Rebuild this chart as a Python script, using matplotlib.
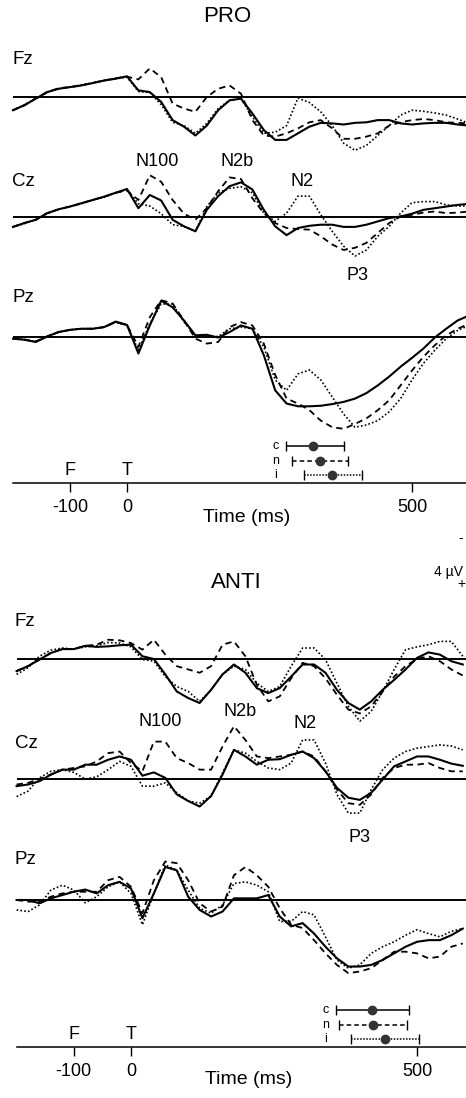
import matplotlib
matplotlib.use('Agg')
import matplotlib.pyplot as plt
import numpy as np

plt.rcParams['font.family'] = ['Liberation Sans', 'DejaVu Sans']

W, H = 466, 1098
PX_UV = 11.0  # pixels per microvolt

# ---- data (microvolts, negative up) ----
time_pro = np.arange(-200, 601, 20)
time_anti = np.arange(-200, 581, 20)

pro_fz_c = [1.2, 0.75, 0.15, -0.45, -0.75, -0.9, -1.05, -1.27, -1.5, -1.67, -1.88,
            -0.6, -0.45, 0.45, 2.1, 2.7, 3.5, 2.6, 1.2, 0.3, 0.15, 1.5, 3.0, 3.9, 3.9, 3.3,
            2.7, 2.35, 2.4, 2.5, 2.35, 2.3, 2.1, 2.1, 2.4, 2.5, 2.4, 2.35, 2.35, 2.5, 2.6]
pro_fz_n = [1.2, 0.75, 0.1, -0.45, -0.8, -0.9, -1.05, -1.3, -1.5, -1.7, -1.85,
            -1.6, -2.6, -1.8, 0.6, 1.05, 1.35, 0.0, -0.75, -1.05, -0.3, 2.1, 3.5, 3.6, 3.3, 2.85,
            2.3, 2.1, 2.85, 3.8, 3.8, 3.6, 3.3, 2.6, 2.3, 2.1, 2.0, 2.1, 2.3, 2.35, 2.4]
pro_fz_i = [1.2, 0.7, 0.15, -0.4, -0.75, -0.9, -1.1, -1.25, -1.5, -1.65, -1.8,
            -0.5, -0.4, 0.7, 2.3, 2.6, 3.3, 2.4, 1.05, 0.3, 0.15, 1.8, 3.3, 3.2, 2.6, 0.1,
            0.5, 1.35, 2.6, 4.2, 4.85, 4.4, 3.5, 2.6, 1.65, 1.2, 1.3, 1.45, 1.65, 2.0, 2.4]

pro_cz_c = [0.9, 0.55, 0.25, -0.35, -0.7, -0.95, -1.25, -1.55, -1.85, -2.2, -2.55,
            -0.8, -2.0, -1.5, 0.25, 0.85, 1.3, -0.65, -1.9, -2.8, -3.15, -2.5, -0.65, 0.85, 1.65, 1.0,
            0.8, 0.7, 0.7, 0.9, 0.9, 0.7, 0.4, 0.1, -0.05, -0.3, -0.65, -0.8, -0.95, -1.1, -1.2]
pro_cz_n = [0.9, 0.55, 0.25, -0.35, -0.7, -0.95, -1.25, -1.55, -1.85, -2.2, -2.4,
            -1.55, -3.8, -3.2, -1.55, -0.3, 0.25, -0.8, -2.35, -3.6, -3.45, -1.7, -0.35, 0.55, 1.0, 1.1,
            1.15, 1.75, 2.5, 3.0, 2.8, 2.35, 1.45, 0.55, -0.05, -0.2, -0.4, -0.5, -0.35, -0.4, -0.5]
pro_cz_i = [0.9, 0.6, 0.25, -0.3, -0.7, -0.95, -1.2, -1.55, -1.8, -2.2, -2.5,
            -1.2, -1.0, -0.3, 0.7, 0.85, 1.3, -0.95, -2.2, -2.6, -2.75, -2.2, -0.35, 0.4, -0.35, -1.9,
            -1.9, -0.2, 1.3, 2.65, 3.55, 3.0, 1.75, 0.85, -0.35, -1.3, -1.4, -1.4, -1.1, -1.0, -1.0]

pro_pz_c = [0.15, 0.25, 0.45, -0.05, -0.45, -0.65, -0.75, -0.75, -0.9, -1.4, -1.1,
            1.5, -1.05, -3.3, -2.7, -1.5, -0.15, -0.2, 0.05, -0.45, -1.05, -0.75, 1.65, 4.85, 6.05, 6.3,
            6.3, 6.25, 6.1, 5.9, 5.6, 5.1, 4.4, 3.6, 2.7, 1.9, 1.05, 0.05, -0.75, -1.5, -1.95]
pro_pz_n = [0.15, 0.25, 0.4, -0.05, -0.45, -0.65, -0.75, -0.75, -0.9, -1.35, -1.1,
            0.9, -1.8, -3.35, -3.05, -1.5, 0.15, 0.6, 0.45, -0.9, -1.35, -1.05, 0.6, 3.45, 5.6, 6.05,
            6.65, 7.6, 8.2, 8.35, 7.9, 7.4, 6.65, 5.75, 4.4, 3.05, 1.8, 0.75, -0.15, -0.75, -1.2]
pro_pz_i = [0.15, 0.2, 0.45, -0.05, -0.45, -0.65, -0.75, -0.75, -0.9, -1.35, -1.05,
            1.2, -1.2, -3.0, -3.0, -1.35, -0.15, 0.0, -0.05, -0.75, -0.9, -0.75, 0.9, 3.9, 4.85, 3.35,
            3.0, 3.9, 5.45, 7.0, 8.2, 8.0, 7.6, 6.8, 5.6, 3.9, 2.4, 1.2, 0.15, -0.6, -1.05]

anti_fz_c = [1.1, 0.65, 0.05, -0.55, -0.9, -0.9, -1.2, -1.1, -1.15, -1.25, -1.3,
             -0.25, 0.0, 1.4, 2.95, 3.55, 4.0, 2.8, 1.4, 0.5, 1.25, 2.65, 3.1, 2.65, 1.6, 0.5,
             0.5, 1.25, 2.8, 4.0, 4.6, 3.85, 2.8, 1.9, 0.95, -0.1, -0.6, -0.4, 0.2, 0.5]
anti_fz_n = [1.1, 0.65, 0.05, -0.55, -0.9, -0.9, -1.2, -1.3, -1.75, -1.7, -1.45,
             -0.85, -1.75, -0.4, 0.65, 0.95, 1.25, 0.65, -1.3, -1.6, -0.25, 2.35, 3.85, 3.4, 1.75, 0.35,
             0.65, 1.75, 3.25, 4.6, 4.95, 4.3, 2.95, 1.6, 0.65, 0.0, -0.25, 0.2, 0.95, 1.5]
anti_fz_i = [1.4, 0.8, -0.25, -0.8, -1.0, -0.9, -1.1, -1.2, -1.5, -1.45, -1.1,
             0.05, 0.2, 1.6, 2.5, 2.95, 3.85, 2.8, 1.4, 0.65, 0.95, 2.2, 2.95, 2.5, 0.65, -1.0,
             -1.0, 0.05, 2.2, 4.3, 5.65, 4.75, 2.95, 0.95, -0.85, -1.1, -1.3, -1.6, -1.6, -0.25]

anti_cz_c = [0.65, 0.5, 0.2, -0.4, -0.85, -0.85, -1.3, -1.3, -1.75, -2.05, -1.75,
             -0.3, -0.6, -0.1, 1.4, 2.0, 2.5, 1.55, -0.4, -2.65, -2.05, -1.3, -1.75, -1.8, -2.2, -2.5,
             -1.9, -0.7, 0.8, 1.7, 1.9, 1.25, 0.05, -1.15, -1.6, -2.05, -2.05, -1.75, -1.4, -1.2]
anti_cz_n = [0.5, 0.35, 0.0, -0.4, -0.85, -1.0, -1.15, -1.6, -2.35, -2.5, -1.45,
             -0.7, -3.4, -3.4, -1.9, -1.45, -0.85, -0.85, -2.95, -4.8, -3.55, -2.05, -1.9, -2.05, -2.2, -2.5,
             -2.05, -0.7, 0.95, 2.2, 2.35, 1.4, -0.1, -1.0, -1.3, -1.3, -1.45, -1.0, -0.7, -0.7]
anti_cz_i = [1.6, 1.1, -0.1, -0.7, -0.85, -0.6, 0.0, -0.2, -0.85, -1.6, -1.15,
             0.65, 0.65, 0.35, 1.25, 2.0, 2.2, 1.55, -0.55, -2.65, -2.35, -1.6, -1.0, -0.85, -1.45, -3.55,
             -3.55, -1.45, 1.4, 3.1, 3.1, 0.95, -0.85, -1.9, -2.5, -2.8, -2.95, -3.1, -3.0, -2.65]

anti_pz_c = [0.0, 0.0, 0.3, -0.15, -0.45, -0.75, -0.95, -0.6, -1.35, -1.65, -1.05,
             1.65, -0.6, -3.0, -2.7, -0.3, 0.9, 1.5, 1.05, -0.15, -0.15, -0.15, -0.45, 1.5, 2.4, 2.1,
             3.05, 4.25, 5.3, 6.05, 6.05, 5.9, 5.45, 4.85, 4.25, 3.8, 3.65, 3.65, 3.2, 2.6]
anti_pz_n = [0.0, 0.15, 0.15, -0.3, -0.6, -0.75, -0.75, -0.75, -1.8, -2.1, -1.2,
             1.2, -1.8, -3.5, -3.35, -1.8, 0.3, 1.05, 0.6, -2.25, -3.0, -2.25, -1.2, 0.75, 2.25, 2.55,
             3.65, 4.85, 5.9, 6.65, 6.5, 6.2, 5.45, 4.7, 4.7, 4.85, 5.3, 5.15, 4.25, 3.95]
anti_pz_i = [0.9, 1.05, 0.45, -0.9, -1.35, -0.9, 0.25, -0.3, -1.2, -1.65, -0.6,
             2.25, -0.6, -3.2, -2.7, -0.9, 0.75, 1.2, 0.45, -1.5, -1.65, -1.35, -0.75, 1.95, 1.95, 1.05,
             1.35, 3.35, 5.45, 6.2, 5.9, 4.85, 4.25, 3.8, 3.2, 2.7, 3.05, 3.35, 2.85, 2.6]

# P3 latency: mean, low, high (ms) for c, n, i
pro_lat = [(326, 279, 381), (339, 289, 388), (360, 311, 412)]
anti_lat = [(421, 358, 486), (423, 364, 482), (444, 384, 504)]
lat_names = ['c', 'n', 'i']
tick_vals = [-100, 0, 500]
tick_labels = ['-100', '0', '500']
event_names = ['F', 'T']
event_times = [-100, 0]

fig = plt.figure(figsize=(W / 100, H / 100), dpi=100)


def ftext(x, y, s, **kw):
    fig.text(x / W, 1 - y / H, s, ha=kw.pop('ha', 'center'), va=kw.pop('va', 'center'), **kw)


def channel(base, t0, s, t, c, n, i):
    ax = fig.add_axes([0, 1 - (base + 100) / H, 1, 170 / H])
    ax.set_xlim(-t0 / s, (W - t0) / s)
    ax.set_ylim(100 / PX_UV, -70 / PX_UV)
    ax.axis('off')
    ax.hlines(0, t[0], (W - t0) / s, color='k', lw=1.4)
    ax.plot(t, c, color='k', lw=1.5)
    ax.plot(t, n, color='k', lw=1.3, ls=(0, (3.5, 2.5)))
    ax.plot(t, i, color='k', lw=1.2, ls=(0, (1, 1.3)))


def time_axis(axis_y, t0, s, t, lat):
    ax = fig.add_axes([0, 1 - axis_y / H, 1, 43 / H])
    ax.set_xlim(-t0 / s, (W - t0) / s)
    ax.set_ylim(0.45, 3.45)
    ax.patch.set_alpha(0)
    for sp in ['left', 'right', 'top']:
        ax.spines[sp].set_visible(False)
    ax.spines['bottom'].set_bounds(t[0], (W - t0) / s)
    ax.spines['bottom'].set_linewidth(1.1)
    ax.set_yticks([])
    ax.set_xticks(tick_vals)
    ax.set_xticklabels(tick_labels, fontsize=13)
    ax.tick_params(axis='x', direction='out', length=6.5, width=1, pad=5)
    styles = ['-', (0, (3, 2)), (0, (1, 1))]
    for k, (m, lo, hi) in enumerate(lat):
        row = 3 - k
        eb = ax.errorbar([m], [row], xerr=[[m - lo], [hi - m]], fmt='o', color='k',
                         mfc='#333333', mec='#333333', ms=6, capsize=3.5, elinewidth=1.1)
        eb[2][0].set_linestyle(styles[k])
        ax.text(lat[0][1] - 18, row, lat_names[k], fontsize=9, ha='center', va='center')
    for name, et in zip(event_names, event_times):
        ax.text(et, 0.28, name, fontsize=13, ha='center', va='center',
                transform=ax.get_xaxis_transform())
    return ax


# ---- PRO ----
ftext(227, 17, 'PRO', fontsize=16)
channel(97, 127, 0.57, time_pro, pro_fz_c, pro_fz_n, pro_fz_i)
channel(217, 127, 0.57, time_pro, pro_cz_c, pro_cz_n, pro_cz_i)
channel(337, 127, 0.57, time_pro, pro_pz_c, pro_pz_n, pro_pz_i)
ftext(12, 59, 'Fz', fontsize=13.5, ha='left')
ftext(12, 182, 'Cz', fontsize=13.5, ha='left')
ftext(13, 298, 'Pz', fontsize=13.5, ha='left')
ftext(157, 162, 'N100', fontsize=13)
ftext(237, 162, 'N2b', fontsize=13)
ftext(302, 182, 'N2', fontsize=13)
ftext(358, 275, 'P3', fontsize=13)
time_axis(483, 127, 0.57, time_pro, pro_lat)
ftext(247, 518, 'Time (ms)', fontsize=14)

# scale
ftext(461, 538, '-', fontsize=10)
ftext(463, 572, '4 \u00b5V', fontsize=10, ha='right')
ftext(461, 584, '+', fontsize=10)

# ---- ANTI ----
ftext(236, 583, 'ANTI', fontsize=16)
channel(659, 131, 0.572, time_anti, anti_fz_c, anti_fz_n, anti_fz_i)
channel(779, 131, 0.572, time_anti, anti_cz_c, anti_cz_n, anti_cz_i)
channel(900, 131, 0.572, time_anti, anti_pz_c, anti_pz_n, anti_pz_i)
ftext(15, 621, 'Fz', fontsize=13.5, ha='left')
ftext(15, 743, 'Cz', fontsize=13.5, ha='left')
ftext(15, 860, 'Pz', fontsize=13.5, ha='left')
ftext(160, 722, 'N100', fontsize=13)
ftext(240, 712, 'N2b', fontsize=13)
ftext(305, 723, 'N2', fontsize=13)
ftext(360, 837, 'P3', fontsize=13)
time_axis(1047, 131, 0.572, time_anti, anti_lat)
ftext(249, 1080, 'Time (ms)', fontsize=14)

fig.savefig('out.png', dpi=100)
